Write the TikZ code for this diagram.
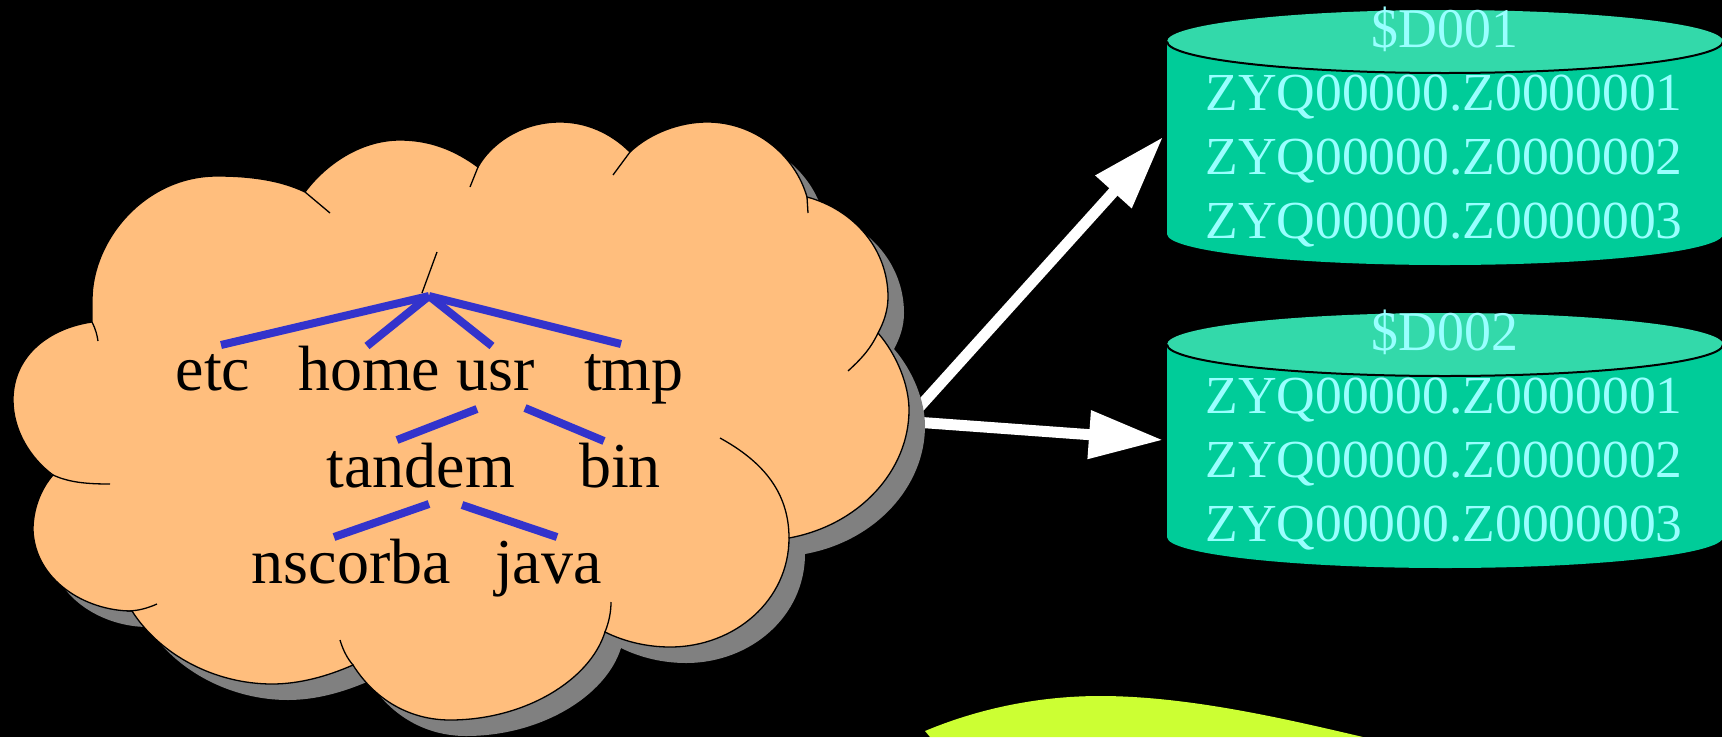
\documentclass[tikz,border=0pt]{standalone}
\usepackage{fontspec}
\setmainfont{Liberation Serif}
\usetikzlibrary{arrows.meta}
\definecolor{cloudfill}{RGB}{255,190,125}
\definecolor{shadowgray}{RGB}{128,128,128}
\definecolor{treeblue}{RGB}{51,51,204}
\definecolor{diskbody}{RGB}{0,204,153}
\definecolor{disktop}{RGB}{51,217,170}
\definecolor{disktext}{RGB}{153,255,255}
\definecolor{limeshape}{RGB}{204,255,51}
\def\cloudpath{(92,322) .. controls (50,328) and (13,355) .. (13,400) .. controls (13,430) and (30,458) .. (53,475)
 .. controls (40,490) and (33,510) .. (33,530) .. controls (35,580) and (85,611) .. (132,611)
 .. controls (160,655) and (215,684) .. (272,684) .. controls (300,684) and (328,676) .. (353,665)
 .. controls (375,700) and (410,720) .. (450,720) .. controls (525,720) and (590,680) .. (605,632)
 .. controls (625,642) and (648,647) .. (670,647) .. controls (735,647) and (789,600) .. (789,538)
 .. controls (860,525) and (909,470) .. (909,410) .. controls (909,385) and (897,355) .. (878,333)
 .. controls (884,322) and (888,310) .. (888,297) .. controls (888,250) and (855,210) .. (807,197)
 .. controls (795,155) and (755,122) .. (707,122) .. controls (680,122) and (650,133) .. (630,152)
 .. controls (610,132) and (585,122) .. (560,122) .. controls (520,122) and (490,145) .. (478,167)
 .. controls (455,150) and (430,140) .. (400,140) .. controls (360,140) and (325,165) .. (305,192)
 .. controls (280,180) and (250,176) .. (217,176) .. controls (145,176) and (92,240) .. (92,300) -- cycle}
\tikzset{
  treeline/.style={treeblue,line width=8pt},
  outline/.style={black,line width=1.3pt},
  treelabel/.style={anchor=base west,inner sep=0pt,font=\fontsize{64}{64}\selectfont,text=black},
  disklabel/.style={anchor=base,inner sep=0pt,font=\fontsize{53.5}{53.5}\selectfont,text=disktext},
  disktitle/.style={anchor=base,inner sep=0pt,font=\fontsize{56}{56}\selectfont,text=disktext,xscale=.96,transform shape},
  bigarrow/.style={white,line width=11pt,-{Triangle[length=74pt,width=46pt]}}
}
\begin{document}
\begin{tikzpicture}[x=1pt,y=-1pt]
\useasboundingbox (0,0) rectangle (1722,737);
\fill[black] (0,0) rectangle (1722,737);
\begin{scope}
\clip (0,0) rectangle (1722,737);
% lime shape at the bottom
\fill[limeshape] (925,731) .. controls (980,708) and (1040,696) .. (1100,696) .. controls (1190,696) and (1290,720) .. (1363,737) -- (930,737) -- cycle;
% arrows
\coordinate (cloudA) at (914,413);
\coordinate (cloudB) at (915,422);
\coordinate (diskA) at (1163,137);
\coordinate (diskB) at (1163,440);
\draw[bigarrow] (cloudA) -- (diskA);
\draw[bigarrow] (cloudB) -- (diskB);
% cloud
\begin{scope}[shift={(16,16)}]
\fill[shadowgray] \cloudpath;
\end{scope}
\fill[cloudfill,draw=black,line width=1.3pt] \cloudpath;
\draw[outline] (53,475) .. controls (70,483) and (90,484) .. (110,484);
\draw[outline] (127,611) .. controls (138,611) and (148,608) .. (157,604);
\draw[outline] (353,665) .. controls (347,658) and (343,650) .. (340,640);
\draw[outline] (605,632) .. controls (609,622) and (611,612) .. (611,602);
\draw[outline] (789,538) .. controls (789,490) and (760,460) .. (720,438);
\draw[outline] (878,333) .. controls (870,350) and (860,360) .. (848,371);
\draw[outline] (807,197) -- (808,213);
\draw[outline] (630,152) -- (613,175);
\draw[outline] (478,167) -- (470,187);
\draw[outline] (305,192) -- (330,213);
\draw[outline] (92,322) .. controls (96,330) and (97,335) .. (98,341);
\draw[outline] (437,252) -- (422,293);
% disks
\foreach \off/\tl/\nm in {0/\$D001/a,303/\$D002/b}{
  \begin{scope}[shift={(0,\off)}]
    \fill[diskbody] (1167,41.5) -- (1167,234) arc[start angle=180,end angle=360,x radius=278pt,y radius=31pt] -- (1723,41.5) -- cycle;
    \fill[disktop] (1445,41.5) ellipse [x radius=278pt,y radius=31.5pt];
    \draw[black,line width=2pt] (1167,41.5) arc[start angle=180,end angle=360,x radius=278pt,y radius=31.5pt];
    \node[disktitle] (title\nm) at (1445,47) {\tl};
    \node[disklabel] (one\nm) at (1444,110) {ZYQ00000.Z0000001};
    \node[disklabel] (two\nm) at (1444,174) {ZYQ00000.Z0000002};
    \node[disklabel] (three\nm) at (1444,238) {ZYQ00000.Z0000003};
  \end{scope}
}
\end{scope}
% tree labels
\node[treelabel] (etc) at (175.5,390) {etc};
\node[treelabel] (home) at (298,390) {home};
\node[treelabel] (usr) at (456,390) {usr};
\node[treelabel] (tmp) at (584,390) {tmp};
\node[treelabel] (tandem) at (326.5,487) {tandem};
\node[treelabel] (bin) at (579,487) {bin};
\node[treelabel] (nscorba) at (251.5,583) {nscorba};
\node[treelabel] (java) at (495,583) {java};
% tree connector ends
\coordinate (root) at (429,296);
\coordinate (etcT) at (221,345);
\coordinate (homeT) at (367,346);
\coordinate (usrT) at (492,346);
\coordinate (tmpT) at (621,344);
\coordinate (usrBl) at (477,409);
\coordinate (usrBr) at (525,408);
\coordinate (tandemT) at (397,440);
\coordinate (binT) at (604,441);
\coordinate (tandemBl) at (429,504);
\coordinate (tandemBr) at (462,505);
\coordinate (nscorbaT) at (334,537);
\coordinate (javaT) at (557,537);
\draw[treeline] (root) -- (etcT);
\draw[treeline] (root) -- (homeT);
\draw[treeline] (root) -- (usrT);
\draw[treeline] (root) -- (tmpT);
\draw[treeline] (usrBl) -- (tandemT);
\draw[treeline] (usrBr) -- (binT);
\draw[treeline] (tandemBl) -- (nscorbaT);
\draw[treeline] (tandemBr) -- (javaT);
\end{tikzpicture}
\end{document}
